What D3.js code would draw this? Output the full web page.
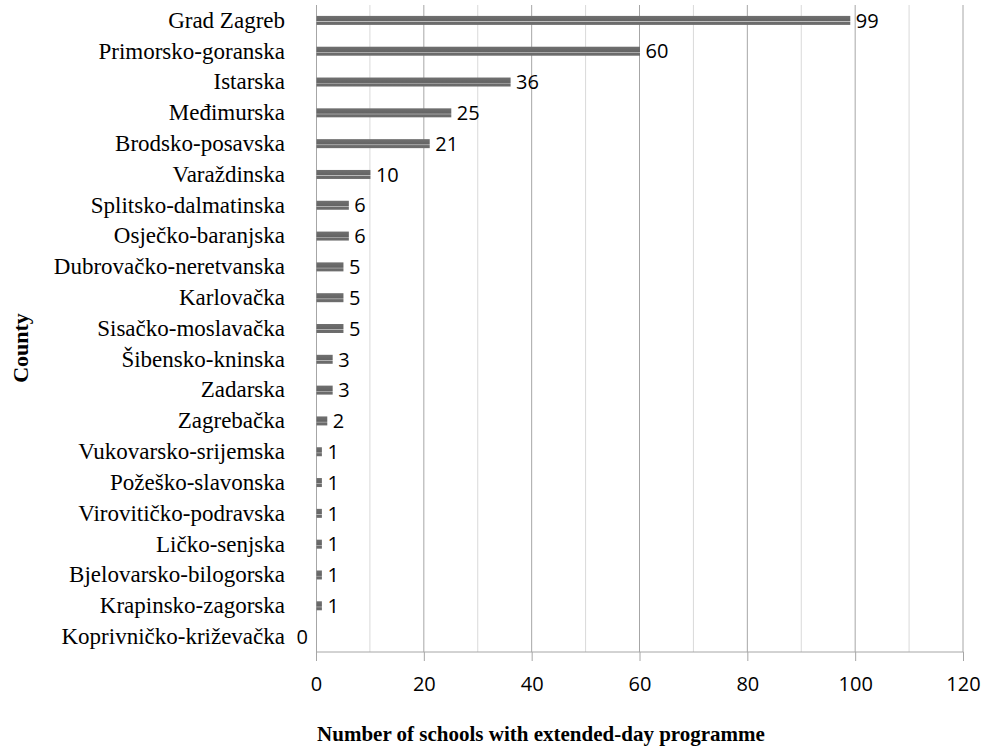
<!DOCTYPE html>
<html>
<head>
<meta charset="utf-8">
<script src="https://cdn.jsdelivr.net/npm/d3@7"></script>
<style>
  body { margin: 0; background: #fff; }
</style>
</head>
<body>
<div id="chart"></div>
<script>
const counties = ['Grad Zagreb','Primorsko-goranska','Istarska','Međimurska','Brodsko-posavska','Varaždinska',
  'Splitsko-dalmatinska','Osječko-baranjska','Dubrovačko-neretvanska','Karlovačka','Sisačko-moslavačka',
  'Šibensko-kninska','Zadarska','Zagrebačka','Vukovarsko-srijemska','Požeško-slavonska','Virovitičko-podravska',
  'Ličko-senjska','Bjelovarsko-bilogorska','Krapinsko-zagorska','Koprivničko-križevačka'];
const schools = [99,60,36,25,21,10,6,6,5,5,5,3,3,2,1,1,1,1,1,1,0];
const xTicks = [0,20,40,60,80,100,120];
const xMinor = [10,30,50,70,90,110];

const width = 987, height = 747;
const margin = {top: 5, right: 24, bottom: 95, left: 316};
const w = width - margin.left - margin.right;
const h = height - margin.top - margin.bottom;

const serif = '"Liberation Serif", "Times New Roman", serif';
const sans = '"Open Sans", Carlito, sans-serif';

const svg = d3.select('#chart').append('svg')
  .attr('width', width).attr('height', height);

/// gradient for bars
const grad = svg.append('defs').append('linearGradient')
  .attr('id', 'barGrad').attr('x1', 0).attr('y1', 0).attr('x2', 0).attr('y2', 1);
grad.append('stop').attr('offset', '0%').attr('stop-color', '#707070');
grad.append('stop').attr('offset', '55%').attr('stop-color', '#646464');
grad.append('stop').attr('offset', '62%').attr('stop-color', '#bdbdbd');
grad.append('stop').attr('offset', '72%').attr('stop-color', '#6a6a6a');
grad.append('stop').attr('offset', '100%').attr('stop-color', '#6e6e6e');

const g = svg.append('g').attr('transform', `translate(${margin.left},${margin.top})`);

/// SETUP scales
const x = d3.scaleLinear().domain([0, 120]).range([0, w]);
const y = d3.scaleBand().domain(counties).range([0, h]);

/// gridlines
g.selectAll('.minor').data(xMinor).join('line')
  .attr('x1', d => x(d)).attr('x2', d => x(d))
  .attr('y1', 0).attr('y2', h)
  .attr('stroke', '#d9d9d9').attr('stroke-width', 1);
g.selectAll('.major').data(xTicks.slice(1)).join('line')
  .attr('x1', d => x(d)).attr('x2', d => x(d))
  .attr('y1', 0).attr('y2', h)
  .attr('stroke', '#a6a6a6').attr('stroke-width', 1);

/// x axis
const xAxis = g.append('g')
  .attr('transform', `translate(0,${h})`)
  .call(d3.axisBottom(x).tickValues(xTicks).tickSize(9).tickPadding(16));
xAxis.select('.domain').attr('stroke', '#a6a6a6').attr('d', `M0.5,0H${w + 0.5}`);
xAxis.selectAll('line').attr('stroke', '#a6a6a6');
xAxis.selectAll('text')
  .style('font-family', sans)
  .style('font-size', '20px').attr('fill', '#000');

/// y axis
const yAxis = g.append('g')
  .call(d3.axisLeft(y).tickSize(0).tickPadding(31));
yAxis.select('.domain').attr('stroke', '#a6a6a6').attr('d', `M0.5,0V${h}`);
yAxis.selectAll('text')
  .style('font-family', serif)
  .style('font-size', '23px').attr('fill', '#000');

/// BUILD bars
const barH = 9;
g.selectAll('.bar').data(schools).join('rect')
  .attr('class', 'bar')
  .attr('x', 0.5)
  .attr('y', (d, i) => y(counties[i]) + y.bandwidth() / 2 - barH / 2)
  .attr('width', d => x(d))
  .attr('height', barH)
  .attr('fill', 'url(#barGrad)');

// zero label sits left of the axis like in the original
g.selectAll('.val').data(schools).join('text')
  .attr('class', 'val')
  .text(d => d)
  .attr('x', d => d === 0 ? x(0) - 8 : x(d) + 6)
  .attr('text-anchor', d => d === 0 ? 'end' : 'start')
  .attr('y', (d, i) => y(counties[i]) + y.bandwidth() / 2)
  .attr('dy', '0.36em')
  .style('font-family', sans)
  .style('font-size', '20px');

/// axis titles
svg.append('text')
  .text('Number of schools with extended-day programme')
  .attr('x', 541).attr('y', 741)
  .attr('text-anchor', 'middle')
  .style('font-family', serif)
  .style('font-weight', 'bold').style('font-size', '21px');

svg.append('text')
  .text('County')
  .attr('transform', 'translate(28,348) rotate(-90)')
  .attr('text-anchor', 'middle')
  .style('font-family', serif)
  .style('font-weight', 'bold').style('font-size', '22px');
</script>
</body>
</html>
